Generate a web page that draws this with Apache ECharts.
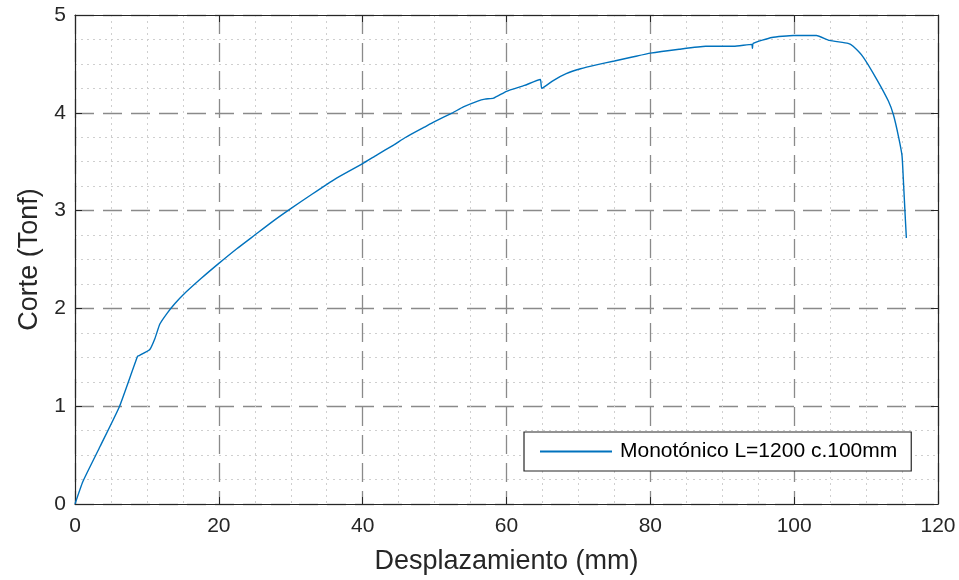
<!DOCTYPE html>
<html>
<head>
<meta charset="utf-8">
<script src="https://cdn.jsdelivr.net/npm/echarts@6/dist/echarts.min.js"></script>
<style>html,body{margin:0;padding:0;background:#fff;overflow:hidden;}#c{width:959px;height:580px;}</style>
</head>
<body>
<div id="c"></div>
<script>
const seriesName = 'Monotónico L=1200 c.100mm';
const xLabel = 'Desplazamiento (mm)';
const yLabel = 'Corte (Tonf)';
const dispX = [0, 1.1, 3.5, 6.2, 8.7, 9.0, 10.4, 11.1, 11.8, 12.8, 13.9, 15.05, 17.6, 20, 22.5, 25, 27.5, 30, 33, 36.1, 40, 42, 44.3, 46, 48.5, 50, 52.5, 54, 56, 57, 58.2, 60, 62.5, 64.7, 64.9, 66.5, 68.3, 70.3, 72.5, 75, 77.5, 80, 84, 87.7, 91.6, 94.1, 94.2, 94.3, 96.9, 99.9, 103.1, 104.9, 107.5, 108.2, 109.6, 111.5, 113.1, 113.8, 114.5, 115.0, 115.2, 115.4, 115.6];
const shearY = [0, 0.23, 0.59, 1.0, 1.51, 1.52, 1.58, 1.69, 1.84, 1.95, 2.05, 2.14, 2.31, 2.46, 2.61, 2.75, 2.89, 3.02, 3.17, 3.32, 3.48, 3.57, 3.67, 3.75, 3.85, 3.91, 4.0, 4.06, 4.12, 4.14, 4.15, 4.22, 4.28, 4.34, 4.25, 4.33, 4.40, 4.45, 4.49, 4.53, 4.57, 4.61, 4.65, 4.68, 4.68, 4.70, 4.66, 4.71, 4.77, 4.79, 4.79, 4.74, 4.71, 4.68, 4.57, 4.34, 4.12, 3.98, 3.76, 3.56, 3.29, 3.00, 2.72];

const axisColor = '#262626';
const font = 'Liberation Sans, Arial, sans-serif';
const data = dispX.map((x, i) => [x, shearY[i]]);

const chart = echarts.init(document.getElementById('c'), null, {width: 959, height: 580});
const majorSplit = {show: true, lineStyle: {color: '#8a8a8a', width: 1.3, type: [19, 9]}};
const minorSplit = {show: true, lineStyle: {color: '#cfcfcf', width: 1, type: [2, 4]}};
chart.setOption({
  backgroundColor: '#fff',
  animation: false,
  grid: {left: 75, width: 863, top: 15, height: 493, containLabel: false},
  legend: {
    left: 524, top: 432,
    data: [seriesName],
    icon: 'rect', itemWidth: 72, itemHeight: 2,
    padding: [9, 14, 9, 16],
    backgroundColor: '#fff',
    borderColor: axisColor, borderWidth: 1.2,
    textStyle: {fontFamily: font, fontSize: 21, color: '#000', padding: [0, 0, 0, 3]}
  },
  xAxis: [{
    type: 'value', min: 0, max: 120, interval: 20,
    name: xLabel, nameLocation: 'middle', nameGap: 44,
    nameTextStyle: {fontFamily: font, fontSize: 27, color: axisColor},
    axisLine: {show: true, onZero: false, lineStyle: {color: axisColor, width: 1.2}},
    axisTick: {show: true, inside: true, length: 7, lineStyle: {color: axisColor}},
    axisLabel: {fontFamily: font, fontSize: 21, color: axisColor, margin: 12},
    splitLine: majorSplit,
    minorTick: {show: false, splitNumber: 4},
    minorSplitLine: minorSplit
  }, {
    type: 'value', min: 0, max: 120, interval: 20, position: 'top',
    axisLine: {show: true, onZero: false, lineStyle: {color: axisColor, width: 1.2}},
    axisTick: {show: true, inside: true, length: 7, lineStyle: {color: axisColor}},
    axisLabel: {show: false}, splitLine: {show: false}
  }],
  yAxis: [{
    type: 'value', min: 0, max: 5, interval: 1,
    name: yLabel, nameLocation: 'middle', nameGap: 32,
    nameTextStyle: {fontFamily: font, fontSize: 27, color: axisColor},
    axisLine: {show: true, onZero: false, lineStyle: {color: axisColor, width: 1.2}},
    axisTick: {show: true, inside: true, length: 7, lineStyle: {color: axisColor}},
    axisLabel: {fontFamily: font, fontSize: 21, color: axisColor, margin: 9},
    splitLine: majorSplit,
    minorTick: {show: false, splitNumber: 4},
    minorSplitLine: minorSplit
  }, {
    type: 'value', min: 0, max: 5, interval: 1, position: 'right',
    axisLine: {show: true, onZero: false, lineStyle: {color: axisColor, width: 1.2}},
    axisTick: {show: true, inside: true, length: 7, lineStyle: {color: axisColor}},
    axisLabel: {show: false}, splitLine: {show: false}
  }],
  series: [{
    name: seriesName, type: 'line', data: data,
    xAxisIndex: 0, yAxisIndex: 0,
    showSymbol: false, smooth: 0.15,
    lineStyle: {color: '#0072BD', width: 1.4},
    itemStyle: {color: '#0072BD'}
  }]
});
</script>
</body>
</html>
